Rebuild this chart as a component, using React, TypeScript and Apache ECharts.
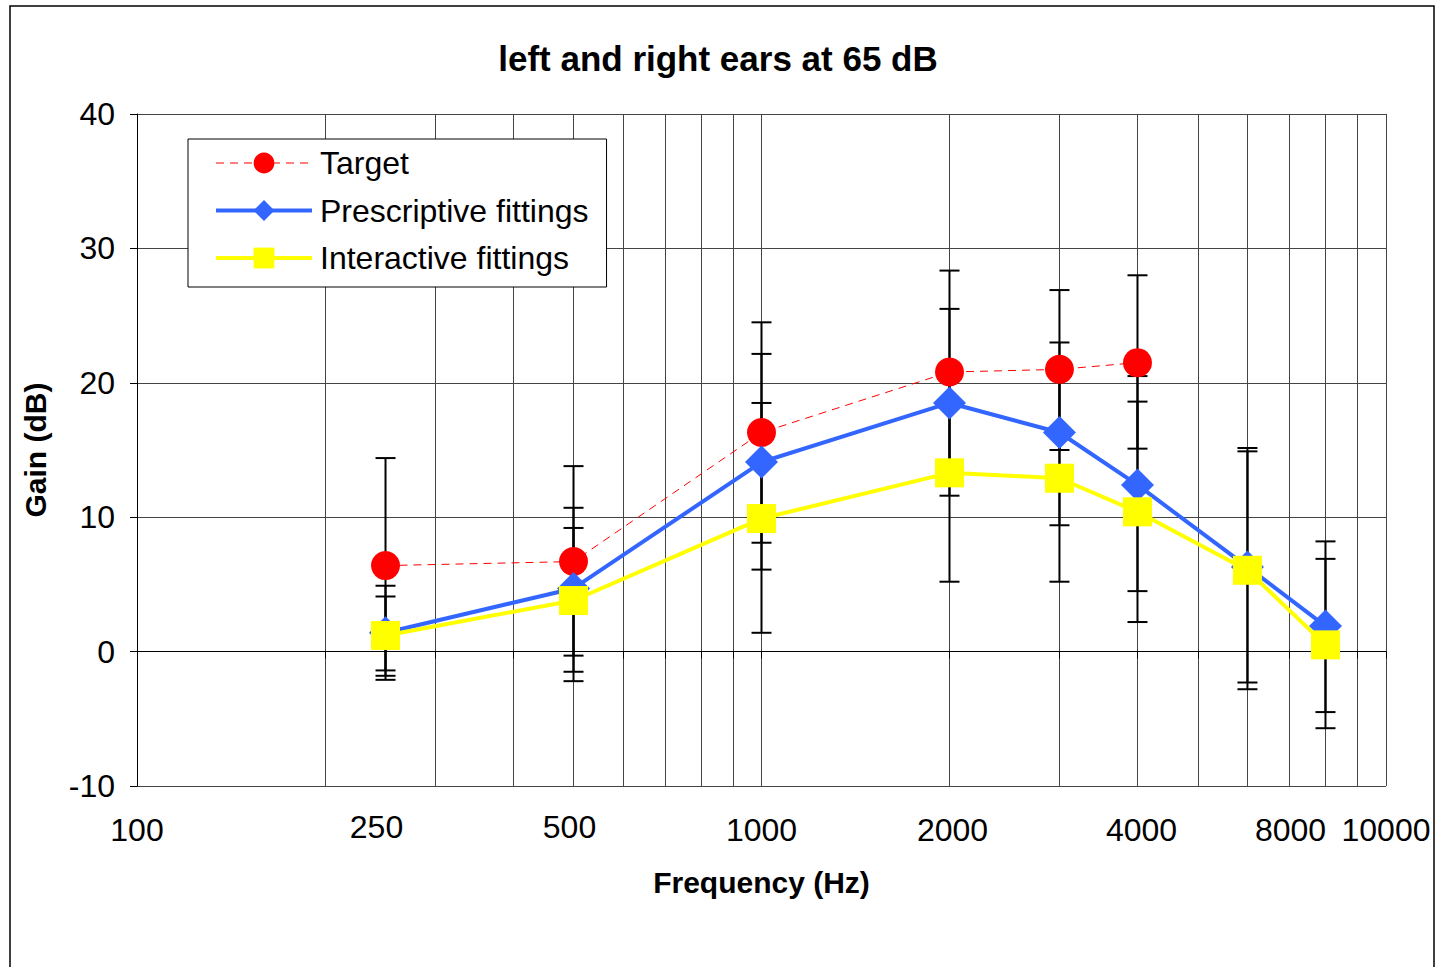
import React, { useEffect, useRef } from 'react';
import * as echarts from 'echarts';

// ---- data ----
const frequencies = [250, 500, 1000, 2000, 3000, 4000, 6000, 8000];

const targetGain = [6.4, 6.7, 16.3, 20.8, 21.0, 21.5, null, null];
const targetHigh = [14.4, 13.8, 24.5, 28.35, 26.9, 28.0, null, null];
const targetLow = [-1.4, -0.3, 8.1, 13.25, 15.0, 15.1, null, null];

const prescriptiveGain = [1.4, 4.7, 14.1, 18.5, 16.3, 12.4, 6.3, 1.9];
const prescriptiveHigh = [4.9, 10.7, 22.15, 25.5, 23.0, 20.5, 15.15, 8.2];
const prescriptiveLow = [-2.1, -1.5, 6.1, 11.6, 9.4, 4.5, -2.3, -4.5];

const interactiveGain = [1.2, 3.8, 9.9, 13.3, 12.9, 10.4, 6.05, 0.5];
const interactiveHigh = [4.1, 9.2, 18.5, 21.4, 20.6, 18.6, 14.9, 6.9];
const interactiveLow = [-1.8, -2.2, 1.4, 5.2, 5.2, 2.2, -2.8, -5.7];

const xGridValues = [100, 200, 300, 400, 500, 600, 700, 800, 900, 1000, 2000, 3000, 4000, 5000, 6000, 7000, 8000, 9000, 10000];
const xLabelValues = [100, 250, 500, 1000, 2000, 4000, 8000, 10000];

const seriesNames = ['Target', 'Prescriptive fittings', 'Interactive fittings'];

const FONT = 'Liberation Sans';

function pairs(vals: (number | null)[]) {
  return frequencies
    .map((f, i) => (vals[i] == null ? null : [f, vals[i]]))
    .filter((d) => d !== null);
}

function errorSeries(name: string, low: (number | null)[], high: (number | null)[], z: number) {
  return {
    type: 'custom',
    name: name + ' error',
    z,
    silent: true,
    data: frequencies
      .map((f, i) => (high[i] == null ? null : [f, low[i], high[i]]))
      .filter((d) => d !== null),
    encode: { x: 0, y: [1, 2] },
    renderItem: (params: any, api: any) => {
      const x = api.value(0);
      const lo = api.value(1);
      const hi = api.value(2);
      const top = api.coord([x, hi]);
      const bot = api.coord([x, lo]);
      const w = 10;
      const style = { stroke: '#000', lineWidth: 2, fill: 'none' };
      return {
        type: 'group',
        children: [
          { type: 'line', shape: { x1: top[0], y1: top[1], x2: bot[0], y2: bot[1] }, style },
          { type: 'line', shape: { x1: top[0] - w, y1: top[1], x2: top[0] + w, y2: top[1] }, style },
          { type: 'line', shape: { x1: bot[0] - w, y1: bot[1], x2: bot[0] + w, y2: bot[1] }, style },
        ],
      };
    },
  };
}

const labelBase = { fontSize: 32, fontFamily: FONT, color: '#000' };

export default function App() {
  const ref = useRef<HTMLDivElement>(null);

  useEffect(() => {
    if (!ref.current) return;
    const chart = echarts.init(ref.current, undefined, { renderer: 'svg' });
    const option: any = {
      animation: false,
      backgroundColor: '#fff',
      textStyle: { fontFamily: FONT, color: '#000' },
      title: {
        text: 'left and right ears at 65 dB',
        left: 'center',
        top: 36,
        textStyle: { fontSize: 35, fontWeight: 'bold', fontFamily: FONT, color: '#000' },
      },
      graphic: [
        {
          type: 'rect',
          z: -10,
          shape: { x: 10, y: 6, width: 1424, height: 1000 },
          style: { fill: 'none', stroke: '#000', lineWidth: 1.5 },
          silent: true,
        },
      ],
      legend: {
        data: seriesNames,
        orient: 'vertical',
        left: 188,
        top: 139,
        padding: [8, 18, 13, 26],
        itemWidth: 96,
        itemHeight: 26,
        itemGap: 15.5,
        backgroundColor: '#fff',
        borderColor: '#000',
        borderWidth: 1,
        borderRadius: 0,
        lineStyle: { width: 'inherit' },
        textStyle: { fontSize: 32, fontFamily: FONT, color: '#000', padding: [0, 0, 0, 3] },
      },
      grid: { left: 137, right: 50, top: 114, bottom: 181, containLabel: false },
      xAxis: {
        type: 'log',
        logBase: 10,
        min: 100,
        max: 10000,
        axisLine: { show: true, lineStyle: { color: '#000', width: 1 } },
        axisTick: { show: true, customValues: xGridValues, length: 7, lineStyle: { color: '#000' } },
        axisLabel: {
          customValues: xLabelValues,
          margin: 25,
          ...labelBase,
          formatter: (v: number) => {
            const s = String(Math.round(v));
            if (v === 250) return '{a|' + s + '}';
            if (v === 500) return '{b|' + s + '}';
            if (v === 2000) return '{c|' + s + '}';
            if (v === 4000) return '{d|' + s + '}';
            if (v === 8000) return '{e|' + s + '}';
            return '{n|' + s + '}';
          },
          rich: {
            n: { ...labelBase, padding: [3, 0, 0, 0] },
            a: { ...labelBase, padding: [0, 18, 0, 0] },
            b: { ...labelBase, padding: [0, 8, 0, 0] },
            c: { ...labelBase, padding: [3, 0, 0, 6] },
            d: { ...labelBase, padding: [3, 0, 0, 8] },
            e: { ...labelBase, padding: [3, 70, 0, 0] },
          },
        },
        splitLine: { show: true, lineStyle: { color: '#444', width: 1 } },
        name: 'Frequency (Hz)',
        nameLocation: 'middle',
        nameGap: 81,
        nameTextStyle: { fontSize: 30, fontWeight: 'bold', fontFamily: FONT, color: '#000' },
      },
      yAxis: {
        type: 'value',
        min: -10,
        max: 40,
        interval: 10,
        axisLine: { show: true, lineStyle: { color: '#000', width: 1 } },
        axisTick: { show: true, length: 7, lineStyle: { color: '#000' } },
        axisLabel: { ...labelBase, margin: 22 },
        splitLine: { show: true, lineStyle: { color: '#444', width: 1 } },
        name: 'Gain (dB)',
        nameLocation: 'middle',
        nameGap: 87,
        nameTextStyle: { fontSize: 30, fontWeight: 'bold', fontFamily: FONT, color: '#000' },
      },
      series: [
        errorSeries('Target', targetLow, targetHigh, 1),
        errorSeries('Prescriptive fittings', prescriptiveLow, prescriptiveHigh, 1),
        errorSeries('Interactive fittings', interactiveLow, interactiveHigh, 1),
        {
          type: 'line',
          name: 'Target',
          z: 3,
          data: pairs(targetGain),
          symbol: 'circle',
          symbolSize: 29,
          lineStyle: { color: '#FF0000', width: 1, type: [8, 6] },
          itemStyle: { color: '#FF0000' },
          emphasis: { disabled: true },
        },
        {
          type: 'line',
          name: 'Prescriptive fittings',
          z: 4,
          data: pairs(prescriptiveGain),
          symbol: 'diamond',
          symbolSize: 33,
          lineStyle: { color: '#3366FF', width: 4 },
          itemStyle: { color: '#3366FF' },
          emphasis: { disabled: true },
        },
        {
          type: 'line',
          name: 'Interactive fittings',
          z: 5,
          data: pairs(interactiveGain),
          symbol: 'rect',
          symbolSize: 29,
          lineStyle: { color: '#FFFF00', width: 4 },
          itemStyle: { color: '#FFFF00' },
          emphasis: { disabled: true },
        },
      ],
    };
    chart.setOption(option);
    return () => chart.dispose();
  }, []);

  return (
    <div
      ref={ref}
      style={{ position: 'fixed', left: 0, top: 0, width: 1436, height: 967, background: '#fff' }}
    />
  );
}
